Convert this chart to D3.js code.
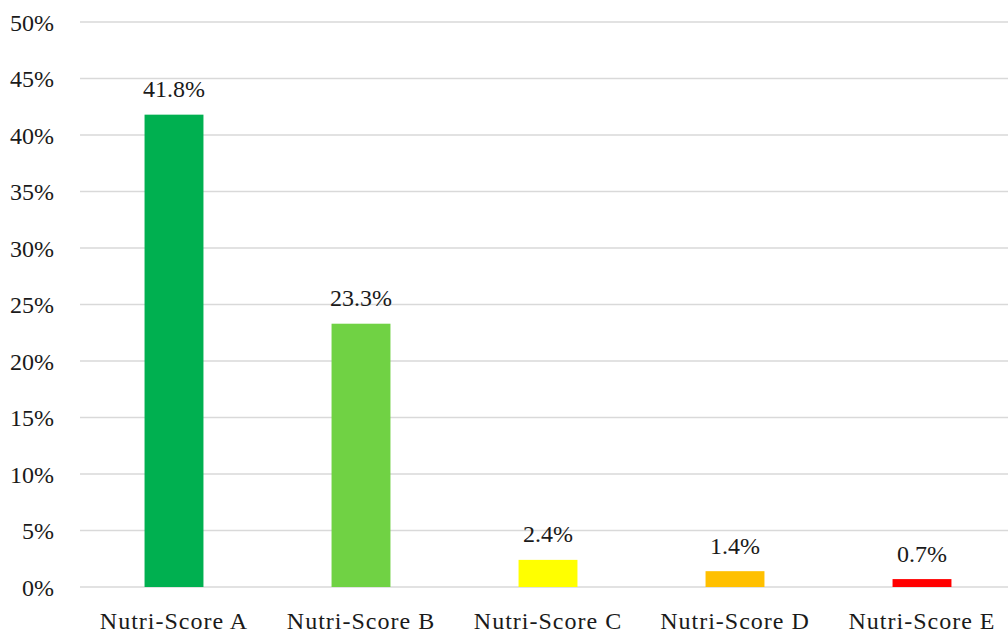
<!DOCTYPE html>
<html>
<head>
<meta charset="utf-8">
<script src="https://cdn.jsdelivr.net/npm/d3@7"></script>
<style>
  body { margin: 0; background: #ffffff; }
</style>
</head>
<body>
<script>
// chart data
var categories = ["Nutri-Score A", "Nutri-Score B", "Nutri-Score C", "Nutri-Score D", "Nutri-Score E"];
var shares = [41.8, 23.3, 2.4, 1.4, 0.7];
var barColors = ["#00b050", "#70d244", "#ffff00", "#ffc000", "#ff0000"];
var yTicks = [0, 5, 10, 15, 20, 25, 30, 35, 40, 45, 50];

var width = 1008, height = 637;

var svg = d3.select("body")
            .append("svg")
            .attr("width", width)
            .attr("height", height);

// scales
var xScale = d3.scaleBand()
               .domain(categories)
               .range([80.5, 1015.5])
               .paddingInner(0.685)
               .paddingOuter(0.3425);

var yScale = d3.scaleLinear()
               .domain([0, 50])
               .range([587, 22]);

// gridlines
svg.append("g")
   .selectAll("line")
   .data(yTicks)
   .enter()
   .append("line")
   .attr("x1", 80)
   .attr("x2", width)
   .attr("y1", function(d) { return yScale(d); })
   .attr("y2", function(d) { return yScale(d); })
   .attr("stroke", "#d9d9d9")
   .attr("stroke-width", 1.5);

// y axis labels
var yAxis = d3.axisLeft(yScale)
              .tickValues(yTicks)
              .tickSize(0)
              .tickPadding(0)
              .tickFormat(function(d) { return d + "%"; });

var yG = svg.append("g")
   .attr("transform", "translate(54,0)")
   .call(yAxis);
yG.select(".domain").remove();
yG.selectAll("text")
  .attr("dy", 8)
  .style("font-family", "Liberation Serif")
  .style("font-size", "24px")
  .style("fill", "#1a1a1a");

// bars
svg.selectAll(".bar")
   .data(shares)
   .enter()
   .append("rect")
   .attr("class", "bar")
   .attr("x", function(d, i) { return xScale(categories[i]); })
   .attr("y", function(d) { return yScale(d); })
   .attr("width", xScale.bandwidth())
   .attr("height", function(d) { return yScale(0) - yScale(d); })
   .attr("fill", function(d, i) { return barColors[i]; });

// value labels
svg.selectAll(".value")
   .data(shares)
   .enter()
   .append("text")
   .attr("class", "value")
   .attr("x", function(d, i) { return xScale(categories[i]) + xScale.bandwidth() / 2; })
   .attr("y", function(d) { return yScale(d) - 17.5; })
   .attr("text-anchor", "middle")
   .style("font-family", "Liberation Serif")
   .style("font-size", "24px")
   .style("fill", "#1a1a1a")
   .text(function(d) { return d.toFixed(1) + "%"; });

// x axis labels
var xAxis = d3.axisBottom(xScale)
              .tickSize(0)
              .tickPadding(0);

var xG = svg.append("g")
   .attr("transform", "translate(0,629)")
   .call(xAxis);
xG.select(".domain").remove();
xG.selectAll("text")
  .attr("dy", 0)
  .attr("y", 0)
  .style("font-family", "Liberation Serif")
  .style("font-size", "24px")
  .style("letter-spacing", "1px")
  .style("fill", "#1a1a1a");
</script>
</body>
</html>
